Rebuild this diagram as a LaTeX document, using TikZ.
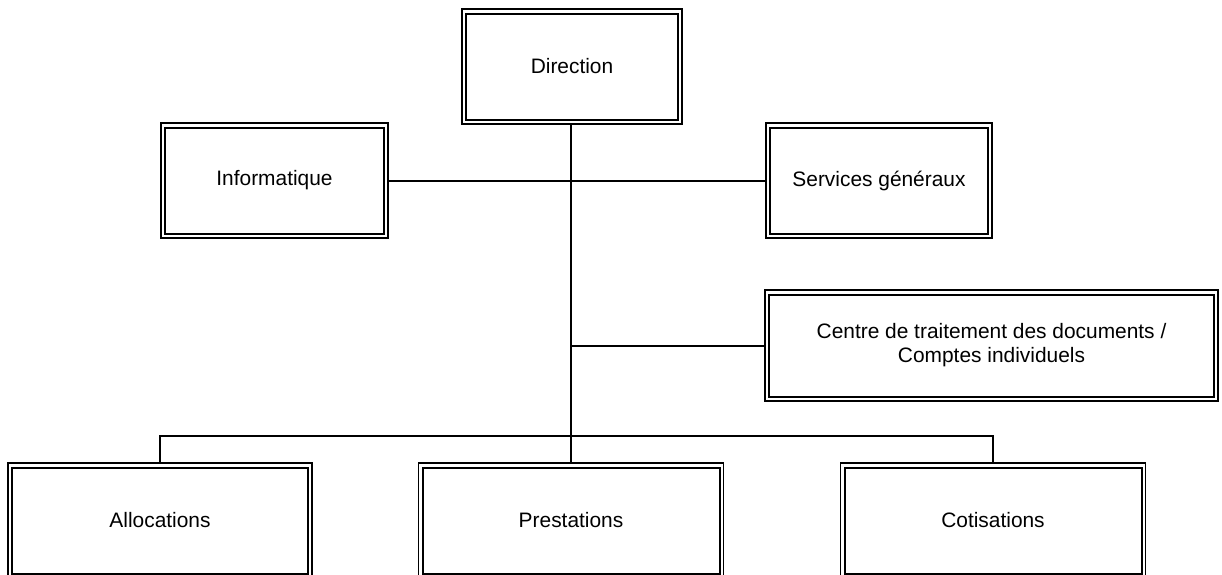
\documentclass[tikz,border=0pt]{standalone}
\usepackage{fontspec}
\setmainfont{Liberation Sans}
\tikzset{
  orgbox/.style={draw, line width=1.2pt, inner sep=0pt, align=center,
    font=\fontsize{20.9}{24}\selectfont,
    path picture={\draw[line width=2pt]
      ([shift={(4pt,-4.5pt)}]path picture bounding box.north west) rectangle
      ([shift={(-4pt,4.5pt)}]path picture bounding box.south east);}},
  link/.style={line width=2pt}
}
\begin{document}
\begin{tikzpicture}[x=1pt,y=-1pt]
        \useasboundingbox (0,0) rectangle (1222,574);
        %boxes
        \node[orgbox, minimum width=220pt, minimum height=115pt] (dir) at (572,66.5) {Direction};
        \node[orgbox, minimum width=227pt, minimum height=115pt] (info) at (274.5,180.5) {Informatique};
        \node[orgbox, minimum width=226pt, minimum height=115pt] (serv) at (879,180.5) {Services généraux};
        \node[orgbox, minimum width=453pt, minimum height=111pt] (ctd) at (991.5,345.5) {Centre de traitement des documents /\\Comptes individuels};
        \node[orgbox, minimum width=304pt, minimum height=115pt] (alloc) at (160,520.5) {Allocations};
        \node[orgbox, minimum width=305pt, minimum height=115pt] (prest) at (571,520.5) {Prestations};
        \node[orgbox, minimum width=305pt, minimum height=115pt] (cotis) at (993,520.5) {Cotisations};
        \coordinate (bus) at (571,436);
        
        %links
        \draw[link] (dir.south -| prest.north) -- (prest.north);
        \draw[link] (info.east) -- (serv.west);
        \draw[link] (prest.north |- ctd.west) -- (ctd.west);
        \draw[link] (alloc.north) -- (alloc.north |- bus) -- (cotis.north |- bus) -- (cotis.north);
\end{tikzpicture}
\end{document}
